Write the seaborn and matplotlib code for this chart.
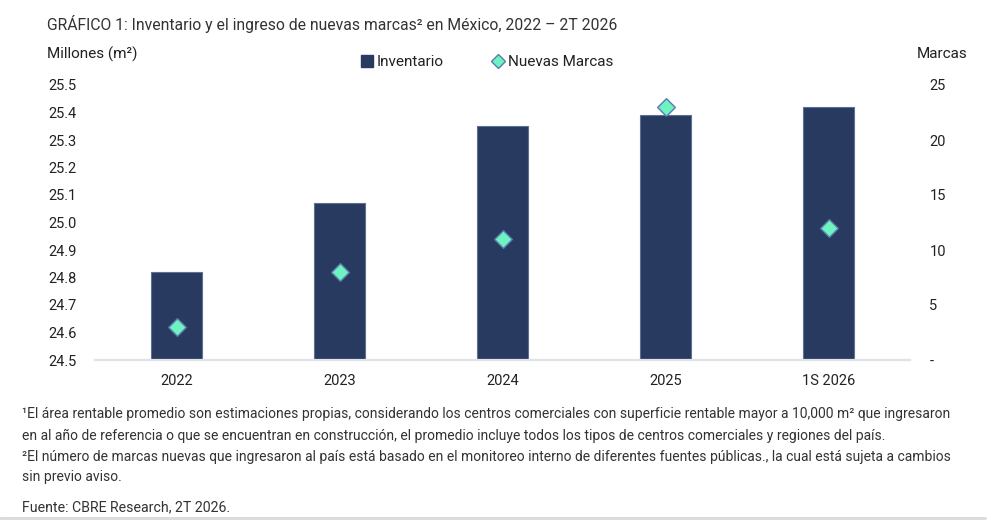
import matplotlib
matplotlib.use("Agg")
import matplotlib.pyplot as plt
import seaborn as sns
import pandas as pd
from matplotlib.lines import Line2D

categories = ["2022", "2023", "2024", "2025", "1S 2026"]
inventario = [24.82, 25.07, 25.35, 25.39, 25.42]
nuevas_marcas = [3, 8, 11, 23, 12]
left_ticks = [24.5, 24.6, 24.7, 24.8, 24.9, 25.0, 25.1, 25.2, 25.3, 25.4, 25.5]
right_ticks = [0, 5, 10, 15, 20, 25]
right_labels = ["-", "5", "10", "15", "20", "25"]

sns.set_theme(style="white")
plt.rcParams["font.family"] = ["Roboto", "DejaVu Sans"]

BAR = "#283a5f"
BAR_EDGE = "#5d7096"
DIA = "#6ef2c2"
DIA_EDGE = "#5a7cae"
TXT = "#222222"

df = pd.DataFrame({"cat": categories, "inv": inventario, "marcas": nuevas_marcas})

fig = plt.figure(figsize=(10, 5.25), dpi=100)
ax = fig.add_axes([0.095, 1 - 360 / 525, 0.815, (360 - 85) / 525])
sns.barplot(data=df, x="cat", y="inv", ax=ax, color=BAR, width=0.31,
            edgecolor=BAR_EDGE, linewidth=0.8, saturation=1)
ax.set_ylim(24.5, 25.5)
ax.set_xlim(-0.5, 4.5)
ax.set_yticks(left_ticks)
ax.set_yticklabels([f"{v:.1f}" for v in left_ticks])
ax.set_xlabel("")
ax.set_ylabel("")
for s in ["top", "right", "left"]:
    ax.spines[s].set_visible(False)
ax.spines["bottom"].set_color("#dfe3e7")
ax.spines["bottom"].set_linewidth(1.6)
ax.tick_params(axis="both", length=0, labelsize=10.5, colors=TXT)
ax.tick_params(axis="x", pad=10)
ax.tick_params(axis="y", pad=13)

ax2 = ax.twinx()
sns.stripplot(data=df, x="cat", y="marcas", ax=ax2, jitter=False, marker="D",
              color=DIA, edgecolor=DIA_EDGE, linewidth=1.0, size=9, zorder=5)
ax2.set_ylim(0, 25)
ax2.set_xlim(-0.5, 4.5)
ax2.set_yticks(right_ticks)
ax2.set_yticklabels(right_labels)
ax2.set_xlabel("")
ax2.set_ylabel("")
for s in ["top", "right", "left", "bottom"]:
    ax2.spines[s].set_visible(False)
ax2.tick_params(axis="y", length=0, labelsize=10.5, colors=TXT, pad=14)

fig.text(0.047, 1 - 24 / 525, "GRÁFICO 1: Inventario y el ingreso de nuevas marcas² en México, 2022 – 2T 2026",
         fontsize=11.3, color="#333333", va="center", ha="left")
fig.text(0.047, 1 - 54 / 525, "Millones (m²)", fontsize=11, color=TXT, va="center", ha="left")
fig.text(0.917, 1 - 54 / 525, "Marcas", fontsize=11, color=TXT, va="center", ha="left")

handles = [
    Line2D([0], [0], marker="s", linestyle="none", markersize=8, markerfacecolor=BAR,
           markeredgecolor=BAR),
    Line2D([0], [0], marker="D", linestyle="none", markersize=7, markerfacecolor=DIA,
           markeredgecolor=DIA_EDGE, markeredgewidth=1.0),
]
leg = fig.legend(handles, ["Inventario", "Nuevas Marcas"], loc="center",
                 bbox_to_anchor=(0.487, 1 - 62 / 525), ncol=2, frameon=False,
                 fontsize=11, handlelength=0.8, handletextpad=0.2, columnspacing=3.2)
for t in leg.get_texts():
    t.set_color(TXT)

foot = [
    (414, "¹El área rentable promedio son estimaciones propias, considerando los centros comerciales con superficie rentable mayor a 10,000 m² que ingresaron"),
    (436, "en al año de referencia o que se encuentran en construcción, el promedio incluye todos los tipos de centros comerciales y regiones del país."),
    (457, "²El número de marcas nuevas que ingresaron al país está basado en el monitoreo interno de diferentes fuentes públicas., la cual está sujeta a cambios"),
    (477, "sin previo aviso."),
]
for y, t in foot:
    fig.text(0.022, 1 - y / 525, t, fontsize=10.0, color="#333333", va="center", ha="left")
fig.text(0.022, 1 - 507 / 525, "Fuente: CBRE Research, 2T 2026.", fontsize=10.2, color="#333333",
         va="center", ha="left")
fig.add_artist(Line2D([0, 0.985], [1 - 518 / 525] * 2, color="#d8dbde", lw=2))

fig.savefig("out.png", dpi=100)
